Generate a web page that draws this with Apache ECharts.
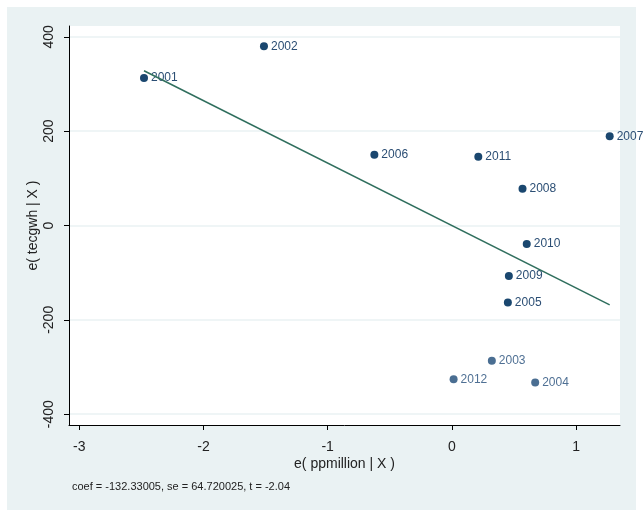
<!DOCTYPE html>
<html>
<head>
<meta charset="utf-8">
<script src="https://cdn.jsdelivr.net/npm/echarts@6/dist/echarts.min.js"></script>
<style>
  html, body { margin: 0; padding: 0; background: #fff; }
  #chart { width: 643px; height: 510px; }
</style>
</head>
<body>
<div id="chart"></div>
<script>
// Added-variable plot: residual of tecgwh vs residual of ppmillion
const years = ['2001', '2002', '2006', '2011', '2007', '2008', '2010', '2009', '2005', '2003', '2012', '2004'];
const ePpmillion = [-2.479, -1.513, -0.624, 0.213, 1.271, 0.569, 0.603, 0.459, 0.451, 0.322, 0.014, 0.671];
const eTecgwh = [313, 380, 150, 146, 189, 78, -39, -107, -163, -287, -326, -333];
const xTicks = [-3, -2, -1, 0, 1];
const yTicks = [-400, -200, 0, 200, 400];
const coef = -132.33005;
const noteText = 'coef = -132.33005, se = 64.720025, t = -2.04';

const FONT = '"Liberation Sans", Arial, sans-serif';
const bgColor = '#eaf2f3';
const markerColor = '#1a476f';
const labelColor = '#2b4e74';
const fadedYears = ['2003', '2012', '2004'];

const points = years.map((y, i) => {
  const faded = fadedYears.includes(y);
  return {
    value: [ePpmillion[i], eTecgwh[i]],
    name: y,
    itemStyle: { color: faded ? '#4a6e92' : markerColor, opacity: 1 },
    label: { color: faded ? '#4f7094' : labelColor }
  };
});

// Fitted line through the origin with the reported slope, spanning the data
const xMin = Math.min(...ePpmillion);
const xMax = Math.max(...ePpmillion);
const fitLine = [[xMin, coef * xMin], [xMax, coef * xMax]];

const chart = echarts.init(document.getElementById('chart'), null, { renderer: 'canvas' });
chart.setOption({
  backgroundColor: '#ffffff',
  animation: false,
  graphic: [
    {
      type: 'rect', z: -10, silent: true,
      shape: { x: 7, y: 7, width: 629, height: 503 },
      style: { fill: bgColor }
    },
    {
      type: 'text', left: 72, top: 481, silent: true,
      style: { text: noteText, font: '11px ' + FONT, fill: '#222' }
    }
  ],
  grid: {
    left: 69, top: 26, right: 23, bottom: 85,
    show: true, backgroundColor: '#ffffff', borderWidth: 0
  },
  xAxis: {
    type: 'value',
    min: -3.083, max: 1.354,
    name: 'e( ppmillion | X )',
    nameLocation: 'middle',
    nameGap: 32,
    nameMoveOverlap: false,
    nameTextStyle: { fontFamily: FONT, fontSize: 14, color: '#222' },
    axisLine: { show: true, onZero: false, lineStyle: { color: '#000', width: 1 } },
    axisTick: { show: true, length: 5, customValues: xTicks, lineStyle: { color: '#000' } },
    axisLabel: {
      customValues: xTicks, margin: 15,
      fontFamily: FONT, fontSize: 14, color: '#222'
    },
    splitLine: { show: false }
  },
  yAxis: {
    type: 'value',
    min: -423, max: 423,
    name: 'e( tecgwh | X )',
    nameLocation: 'middle',
    nameRotate: 90,
    nameGap: 29,
    nameMoveOverlap: false,
    nameTextStyle: { fontFamily: FONT, fontSize: 14, color: '#222' },
    axisLine: { show: true, onZero: false, lineStyle: { color: '#000', width: 1 } },
    axisTick: { show: true, length: 5, customValues: yTicks, lineStyle: { color: '#000' } },
    axisLabel: {
      customValues: yTicks, rotate: 90, margin: 13,
      fontFamily: FONT, fontSize: 14, color: '#222'
    },
    splitLine: { show: true, lineStyle: { color: bgColor, width: 1.5 } }
  },
  series: [
    {
      type: 'line',
      data: fitLine,
      symbol: 'none',
      lineStyle: { color: '#2f6e5d', width: 1.5 },
      z: 3,
      silent: true
    },
    {
      type: 'scatter',
      data: points,
      symbol: 'circle',
      symbolSize: 8,
      z: 2,
      label: {
        show: true,
        position: 'right',
        distance: 3,
        formatter: p => p.name,
        fontFamily: FONT,
        fontSize: 12
      }
    }
  ]
});
</script>
</body>
</html>
